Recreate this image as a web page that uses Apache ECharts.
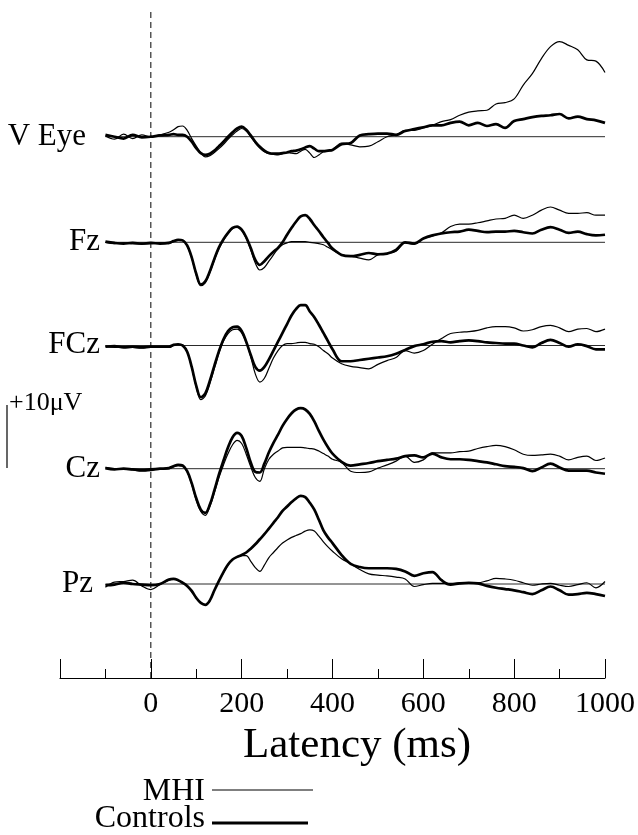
<!DOCTYPE html>
<html><head><meta charset="utf-8">
<script src="https://cdn.jsdelivr.net/npm/echarts@6.0.0/dist/echarts.min.js"></script>
<style>html,body{margin:0;padding:0;background:#fff}#c{width:638px;height:835px}</style>
</head><body><div id="c"></div>
<script>
// ---------------- DATA ----------------
const latency = [-100,-80,-60,-40,-20,0,20,
  40,50,60,70,80,90,100,110,120,130,140,150,160,170,180,190,200,210,220,230,240,250,260,270,280,290,300,310,320,330,340,350,360,370,380,390,400,
  420,440,460,480,500,520,540,560,580,600,620,640,660,680,700,720,740,760,780,800,820,840,860,880,900,920,940,960,980,1000];
const channels = ['V Eye','Fz','FCz','Cz','Pz'];
const groups = ['MHI','Controls'];
const tickLabels = [0,200,400,600,800,1000];
const axisRange = [-200,1000];
const baselineSpan = [-100,1000];
const stimulusOnset = 0;
const scaleBarUV = 10;
const scaleBarLabel = '+10\u03BCV';
const axisTitle = 'Latency (ms)';

const vEyeMHI = [0.1,-0.4,0.4,-0.3,0.3,0,0.3,
  0.7,1.1,1.6,1.7,1.0,-0.3,-1.5, -2.6,-3.2,-3.0,-2.5,-1.9,-1.2,-0.4,0.3,0.9,1.3, 0.9,0,-1.0,-1.8,-2.4,-2.7,-2.8,-2.9,-2.7,-2.5, -2.6,-2.7,-2.3,-2.0,-2.6,-3.3,-2.9,-2.4,-2.3,-2.1,
  -1.0,-1.3,-1.6,-1.5,-0.8,0,0.3,1.0,1.0,1.4, 1.8,2.4,2.7,3.4,3.9,4.1,4.2,5.2,5.4,6.0, 8.2,10.0,12.4,14.3,15.1,14.5,13.8,12.2,12.0,10.2];
const vEyeControls = [0.3,0,-0.3,0.3,-0.1,0,0.2,
  0.3,0.4,0.3,0.3,0,-0.8,-1.8, -2.6,-2.9,-2.7,-2.2,-1.5,-0.8,0,0.7,1.3,1.6, 1.1,0.2,-0.8,-1.6,-2.2,-2.6,-2.7,-2.7,-2.6,-2.5, -2.3,-2.2,-2.0,-1.7,-1.5,-1.9,-2.3,-2.3,-2.2,-2.1,
  -1.2,-1.0,0.2,0.4,0.5,0.5,0.3,0.9,1.2,1.5, 1.8,1.8,2.2,2.4,1.8,2.2,1.7,2.0,1.4,2.5, 2.8,3.1,3.3,3.4,3.6,2.9,3.2,2.8,2.6,2.2];
const fzMHI = [0,-0.2,-0.1,-0.2,-0.3,-0.2,-0.1,
  -0.2,0.1,0.3,0.3,-0.6,-2.5,-5.2, -6.9,-6.4,-4.8,-2.8,-1.0,0.3,1.4,2.2,2.4,1.9, 0.6,-1.2,-3.3,-4.4,-4.0,-3.0,-2.0,-1.0,-0.4,-0.1, 0.1,0.1,0.1,0.1,0,-0.1,-0.2,-0.4,-0.8,-1.2,
  -2.0,-2.2,-2.5,-2.8,-2.0,-1.8,-1.4,-0.1,-0.3,0.6, 1.0,1.5,2.5,2.9,2.9,3.1,3.4,3.7,3.8,4.3, 3.8,4.3,5.1,5.6,5.1,4.6,4.6,4.7,4.3,4.3];
const fzControls = [0.1,-0.1,-0.2,-0.1,-0.2,-0.1,-0.2,
  -0.1,0.2,0.4,0.3,-0.5,-2.4,-5.0, -6.7,-6.2,-4.6,-2.6,-0.8,0.5,1.5,2.3,2.5,2.0, 0.8,-0.9,-2.8,-3.6,-3.0,-2.2,-1.5,-0.9,0,1.2, 2.3,3.3,4.1,4.3,3.7,2.7,1.8,0.8,-0.1,-1.0,
  -2.0,-2.2,-2.0,-1.7,-1.9,-1.8,-1.2,0,-0.2,0.6, 1.1,1.4,1.6,1.7,2.0,1.8,1.6,1.7,1.7,1.8, 1.6,1.4,2.0,2.4,2.0,1.5,1.7,1.3,1.1,1.2];
const fczMHI = [-0.1,-0.3,-0.2,-0.3,-0.4,-0.2,-0.3,
  -0.3,0,0.2,0.1,-1.0,-3.5,-6.6, -8.6,-8.0,-6.0,-3.6,-1.2,0.7,1.9,2.5,2.6,2.0, 0.5,-1.8,-4.5,-5.8,-5.2,-3.6,-2.0,-0.8,0,0.3, 0.3,0.4,0.5,0.5,0.3,0.2,-0.2,-0.8,-1.3,-2.0,
  -2.9,-3.3,-3.5,-3.7,-3.0,-2.4,-1.9,-0.8,-1.2,-0.8, 0.2,1.1,1.9,2.1,2.2,2.4,2.8,3.0,3.0,2.8, 2.3,2.5,3.0,3.2,2.8,2.2,2.6,2.7,2.2,2.6];
const fczControls = [-0.2,-0.1,-0.3,-0.2,-0.3,-0.2,-0.2,
  -0.2,0.1,0.2,0,-1.0,-3.4,-6.4, -8.2,-7.6,-5.6,-3.2,-0.9,1.0,2.3,2.9,3.0,2.3, 0.6,-1.5,-3.4,-4.0,-3.4,-2.2,-0.8,0.6,2.0,3.4, 4.8,5.8,6.4,6.4,5.4,4.5,3.3,2.0,0.7,-0.6,
  -2.5,-2.5,-2.3,-2.1,-1.9,-1.7,-1.3,-0.7,-0.1,0.2, 0.6,0.7,0.5,0.7,0.8,0.7,0.5,0.4,0.3,0.3, 0,-0.3,0.4,0.9,0.4,-0.2,0.2,-0.1,-0.6,-0.6];
const czMHI = [0.2,0,-0.1,-0.2,-0.4,-0.3,-0.1,
  0,0.3,0.5,0.4,-0.5,-2.5,-5.0, -6.8,-7.4,-6.0,-3.8,-1.4,0.6,2.4,3.8,4.5,4.0, 2.3,0.3,-1.4,-2.0,0,1.5,2.3,2.8,3.3,3.4, 3.4,3.4,3.4,3.3,3.2,3.1,2.8,2.4,2.0,1.5,
  1.0,-0.4,-0.6,-0.5,0.1,0.6,1.2,2.0,1.0,1.4, 2.5,2.5,2.5,2.7,2.8,3.2,3.5,3.7,3.5,3.0, 2.3,2.1,2.2,2.3,2.0,1.4,1.8,2.0,1.3,1.7];
const czControls = [0.1,-0.1,0,-0.1,-0.2,-0.1,0,
  0.1,0.4,0.6,0.5,-0.4,-2.3,-4.7, -6.5,-7.0,-5.7,-3.4,-0.9,1.3,3.4,5.0,5.7,5.2, 3.3,1.0,-0.5,-0.6,0.8,2.6,4.1,5.4,6.8,7.9, 8.8,9.4,9.6,9.4,8.7,7.5,6.0,4.6,3.4,2.4,
  1.1,0.5,0.7,0.9,1.2,1.4,1.6,2.0,2.1,1.8, 2.4,1.8,1.5,1.5,1.4,1.2,1.0,0.7,0.4,0.3, 0.1,-0.4,0.2,0.8,0.2,-0.3,-0.3,-0.3,-0.6,-0.8];
const pzMHI = [-0.5,0.3,0.4,0.6,-0.3,-0.9,-0.1,
  0.6,0.8,0.6,0.2,-0.3,-1.2,-2.2, -3.0,-3.3,-2.6,-1.0,0.5,1.8,3.0,3.9,4.3,4.5, 4.5,3.6,2.6,2.0,3.0,4.2,5.0,5.8,6.5,7.0, 7.4,7.7,8.0,8.4,8.6,8.4,7.6,6.7,5.9,5.2,
  4.0,3.2,2.3,1.6,1.4,1.3,1.1,0.8,-0.4,-0.1, 0.1,0.1,0.1,0.2,0.2,0.2,0.5,0.9,0.8,0.6, 0.2,-0.2,0,0.1,-0.2,-0.4,-0.1,0.2,-0.6,0.4];
const pzControls = [-0.2,-0.1,0.2,0,-0.1,-0.2,0,
  0.7,0.8,0.6,0.2,-0.3,-1.1,-2.2, -3.0,-3.3,-2.6,-1.0,0.5,1.9,3.1,3.9,4.3,4.6, 5.0,5.6,6.3,7.1,7.9,8.8,9.7,10.6,11.6,12.3, 13.0,13.6,14.0,13.8,12.9,11.8,10.2,8.5,7.4,6.5,
  4.6,3.2,2.7,2.5,2.5,2.5,2.4,2.0,1.3,1.7, 1.9,0.6,-0.1,0.1,0.2,0.1,-0.3,-0.6,-0.8,-1.0, -1.3,-1.6,-1.0,-0.4,-1.0,-1.7,-1.6,-1.4,-1.6,-1.9];

const seriesByChannel = [
  [vEyeMHI, vEyeControls],
  [fzMHI, fzControls],
  [fczMHI, fczControls],
  [czMHI, czControls],
  [pzMHI, pzControls]
];

// ---------------- LAYOUT ----------------
const W = 638, H = 835;
const PX_PER_UV = 6.3;
const Y_HALF = 20;
const GRID_LEFT = 60, GRID_RIGHT = 33;
const AXIS_Y = 678, AXIS_TOP = 10;
const baselines = [136.7, 242.3, 345.5, 468.7, 584];
const labelRight = [86, 100, 100, 100, 93];
const labelFont = 31;
const FONT = '"Liberation Serif", "Times New Roman", serif';
const lineWidths = [1.2, 2.7];

const grids = [], xAxes = [], yAxes = [], series = [];
baselines.forEach((b, i) => {
  grids.push({left: GRID_LEFT, right: GRID_RIGHT, top: b - Y_HALF * PX_PER_UV, height: 2 * Y_HALF * PX_PER_UV});
  xAxes.push({gridIndex: i, type: 'value', min: axisRange[0], max: axisRange[1], show: false});
  yAxes.push({gridIndex: i, type: 'value', min: -Y_HALF, max: Y_HALF, show: false});
  series.push({
    type: 'line', xAxisIndex: i, yAxisIndex: i, silent: true, symbol: 'none',
    data: [[baselineSpan[0], 0], [baselineSpan[1], 0]],
    lineStyle: {color: '#2a2a2a', width: 1}, z: 1
  });
  seriesByChannel[i].forEach((arr, g) => {
    series.push({
      name: groups[g], type: 'line', xAxisIndex: i, yAxisIndex: i,
      silent: true, symbol: 'none', smooth: 0.35,
      data: latency.map((t, k) => [t, arr[k]]),
      lineStyle: {color: '#000', width: lineWidths[g]}, z: 2 + g
    });
  });
});
// axis grid (bottom axis + stimulus onset line)
const ai = baselines.length;
grids.push({left: GRID_LEFT, right: GRID_RIGHT, top: AXIS_TOP, height: AXIS_Y - AXIS_TOP});
xAxes.push({
  gridIndex: ai, type: 'value', min: axisRange[0], max: axisRange[1], interval: 200,
  axisLine: {show: true, onZero: false, lineStyle: {color: '#000', width: 1.2}},
  axisTick: {show: true, inside: true, length: 19, lineStyle: {color: '#000', width: 1}},
  minorTick: {show: true, splitNumber: 2, length: 9, lineStyle: {color: '#000', width: 1}},
  splitLine: {show: false}, minorSplitLine: {show: false},
  axisLabel: {
    margin: 26, verticalAlign: 'middle', fontSize: 30, fontFamily: FONT, color: '#000',
    formatter: v => tickLabels.includes(v) ? String(v) : ''
  }
});
yAxes.push({gridIndex: ai, type: 'value', min: 0, max: 1, show: false});
series.push({
  type: 'line', xAxisIndex: ai, yAxisIndex: ai, silent: true, symbol: 'none',
  data: [[stimulusOnset, 0], [stimulusOnset, 1]],
  lineStyle: {color: '#000', width: 1, type: [6, 4]}, z: 1
});

// text and legend
const graphic = [];
channels.forEach((c, i) => {
  graphic.push({type: 'text', silent: true, style: {
    text: c, x: labelRight[i], y: baselines[i] + 10 - 0.33 * labelFont,
    font: labelFont + 'px ' + FONT, fill: '#000', textAlign: 'right', textVerticalAlign: 'middle'}});
});
// scale bar
const barBottom = 468;
graphic.push({type: 'line', silent: true, shape: {x1: 7, y1: barBottom - scaleBarUV * PX_PER_UV, x2: 7, y2: barBottom},
  style: {stroke: '#000', lineWidth: 1.2}});
graphic.push({type: 'text', silent: true, style: {text: scaleBarLabel, x: 9, y: 403,
  font: '26px ' + FONT, fill: '#000', textAlign: 'left', textVerticalAlign: 'middle'}});
// axis title
graphic.push({type: 'text', silent: true, style: {text: axisTitle, x: 243, y: 746,
  font: '43px ' + FONT, fill: '#000', textAlign: 'left', textVerticalAlign: 'middle'}});
// legend
const legendY = [792, 819];
const legendLineY = [790, 823];
const legendLineEnd = [313, 308];
groups.forEach((g, k) => {
  graphic.push({type: 'text', silent: true, style: {text: g, x: 205, y: legendY[k],
    font: '32px ' + FONT, fill: '#000', textAlign: 'right', textVerticalAlign: 'middle'}});
  graphic.push({type: 'line', silent: true, shape: {x1: 212, y1: legendLineY[k], x2: legendLineEnd[k], y2: legendLineY[k]},
    style: {stroke: '#000', lineWidth: lineWidths[k] + (k ? 0.5 : 0)}});
});

const chart = echarts.init(document.getElementById('c'), null, {renderer: 'canvas', width: W, height: H});
chart.setOption({
  animation: false,
  backgroundColor: '#fff',
  grid: grids, xAxis: xAxes, yAxis: yAxes, series: series, graphic: graphic
});
</script></body></html>
